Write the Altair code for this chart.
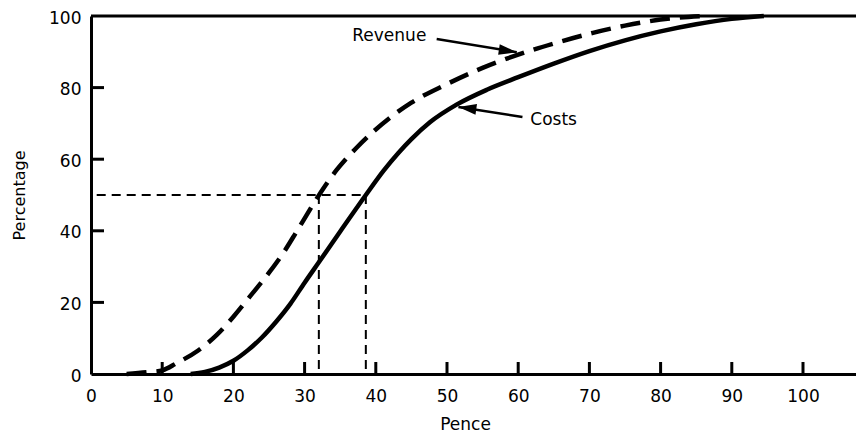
import altair as alt
import pandas as pd

# ---- data ----
cost_pence = [14, 16, 18, 20, 22, 24, 26, 28, 30, 32, 35, 38.6, 41.1, 43.2, 45, 47.6, 51.4, 55.6, 60, 65, 70, 75, 80, 85, 90, 94.5]
cost_pct = [0, 0.6, 1.8, 3.7, 6.6, 10.2, 14.6, 19.6, 25.5, 31.2, 39.8, 50, 56.8, 61.8, 65.6, 70.3, 75.3, 79.4, 82.9, 86.7, 90.2, 93.2, 95.7, 97.7, 99.2, 100]

rev_pence = [5, 8, 10, 12, 15, 17.7, 20, 22.3, 25, 27, 29, 31.9, 34.5, 37.3, 39.6, 42, 45, 50, 55, 60, 65, 70.5, 75, 80, 86]
rev_pct = [0, 0.5, 1, 3, 6.5, 11, 16, 21.6, 28.3, 33.8, 40.2, 49.6, 57.0, 63.2, 67.6, 71.6, 75.8, 81, 85.5, 89.2, 92.3, 95.3, 97.3, 99, 100]

x_tick_values = [0, 10, 20, 30, 40, 50, 60, 70, 80, 90, 100]
y_tick_values = [0, 20, 40, 60, 80, 100]
x_inner_ticks = [10, 20, 30, 40, 50, 60, 70, 80, 90, 100]
y_inner_ticks = [20, 40, 60, 80]

ref_level = 50
ref_pence = [32, 38.6]

labels = ["Revenue", "Costs"]
label_pence = [36.7, 61.7]
label_pct = [94.4, 71.0]

arrow_from_pence = [48.55, 60.6]
arrow_from_pct = [93.6, 71.8]
arrow_to_pence = [59.8, 51.6]
arrow_to_pct = [89.9, 74.6]
arrow_angle = [8.5, 188]

W, H = 765, 358
X_MAX = W / 7.12
FONT = "DejaVu Sans"

xs = alt.Scale(domain=[0, X_MAX], nice=False, zero=False)
ys = alt.Scale(domain=[0, 100], nice=False, zero=False)

costs_df = pd.DataFrame({"pence": cost_pence, "pct": cost_pct})
rev_df = pd.DataFrame({"pence": rev_pence, "pct": rev_pct})

x_axis = alt.Axis(
    values=x_tick_values, tickSize=0, grid=False, domainColor="black", domainWidth=3,
    labelFont=FONT, labelFontSize=17, labelColor="black", labelPadding=14,
    title="Pence", titleFont=FONT, titleFontSize=17, titleFontWeight="normal",
    titleColor="black", titleX=374, titleY=50, titleBaseline="middle",
    titleAlign="center", labelFlush=False,
)
y_axis = alt.Axis(
    values=y_tick_values, tickSize=0, grid=False, domainColor="black", domainWidth=3,
    labelFont=FONT, labelFontSize=17, labelColor="black", labelPadding=10, labelOffset=2,
    title="Percentage", titleFont=FONT, titleFontSize=16, titleFontWeight="normal",
    titleColor="black", titleX=-72, titleY=H / 2, titleAngle=270, titleBaseline="middle",
    titleAlign="center", labelFlush=False,
)

costs_line = alt.Chart(costs_df).mark_line(
    color="black", strokeWidth=4.5, interpolate="monotone"
).encode(
    x=alt.X("pence:Q", scale=xs, axis=x_axis),
    y=alt.Y("pct:Q", scale=ys, axis=y_axis),
)

rev_line = alt.Chart(rev_df).mark_line(
    color="black", strokeWidth=4.5, interpolate="monotone", strokeDash=[20, 10]
).encode(
    x=alt.X("pence:Q", scale=xs),
    y=alt.Y("pct:Q", scale=ys),
)

top_rule = alt.Chart(pd.DataFrame({"x0": [0], "x1": [X_MAX], "y": [100]})).mark_rule(
    color="black", strokeWidth=3
).encode(x=alt.X("x0:Q", scale=xs), x2="x1:Q", y=alt.Y("y:Q", scale=ys))

xt = alt.Chart(pd.DataFrame({"v": x_inner_ticks})).mark_rule(
    color="black", strokeWidth=3
).encode(x=alt.X("v:Q", scale=xs), y=alt.value(H), y2=alt.value(H - 12))

yt = alt.Chart(pd.DataFrame({"v": y_inner_ticks})).mark_rule(
    color="black", strokeWidth=3
).encode(y=alt.Y("v:Q", scale=ys), x=alt.value(0), x2=alt.value(13))

h_ref = alt.Chart(pd.DataFrame({"x0": [0.8], "x1": [max(ref_pence)], "y": [ref_level]})).mark_rule(
    color="black", strokeWidth=2, strokeDash=[9, 6]
).encode(x=alt.X("x0:Q", scale=xs), x2="x1:Q", y=alt.Y("y:Q", scale=ys))

v_ref = alt.Chart(pd.DataFrame({"x": ref_pence, "y0": [0, 0], "y1": [ref_level, ref_level]})).mark_rule(
    color="black", strokeWidth=2, strokeDash=[9, 6]
).encode(x=alt.X("x:Q", scale=xs), y=alt.Y("y1:Q", scale=ys), y2="y0:Q")

ann_df = pd.DataFrame({
    "label": labels, "lx": label_pence, "ly": label_pct,
    "ax0": arrow_from_pence, "ay0": arrow_from_pct,
    "ax1": arrow_to_pence, "ay1": arrow_to_pct, "ang": arrow_angle,
})

texts = alt.Chart(ann_df).mark_text(
    font=FONT, fontSize=17, color="black", align="left", baseline="middle"
).encode(x=alt.X("lx:Q", scale=xs), y=alt.Y("ly:Q", scale=ys), text="label:N")

shafts = alt.Chart(ann_df).mark_rule(color="black", strokeWidth=2.6).encode(
    x=alt.X("ax0:Q", scale=xs), y=alt.Y("ay0:Q", scale=ys), x2="ax1:Q", y2="ay1:Q"
)

heads = alt.Chart(ann_df).mark_point(
    shape="M0,0L-1,-0.3L-1,0.3Z", filled=True, color="black", opacity=1, size=1300, strokeWidth=0
).encode(
    x=alt.X("ax1:Q", scale=xs), y=alt.Y("ay1:Q", scale=ys), angle=alt.Angle("ang:Q", scale=None)
)

chart = alt.layer(
    v_ref, h_ref, rev_line, costs_line, top_rule, xt, yt, shafts, heads, texts
).properties(
    width=W, height=H,
    autosize=alt.AutoSizeParams(type="none"),
    padding={"left": 83, "top": 8, "right": 0, "bottom": 58},
).configure_view(stroke=None).configure(background="white")

chart.save("out.html", embed_options={"renderer": "svg", "actions": False})
